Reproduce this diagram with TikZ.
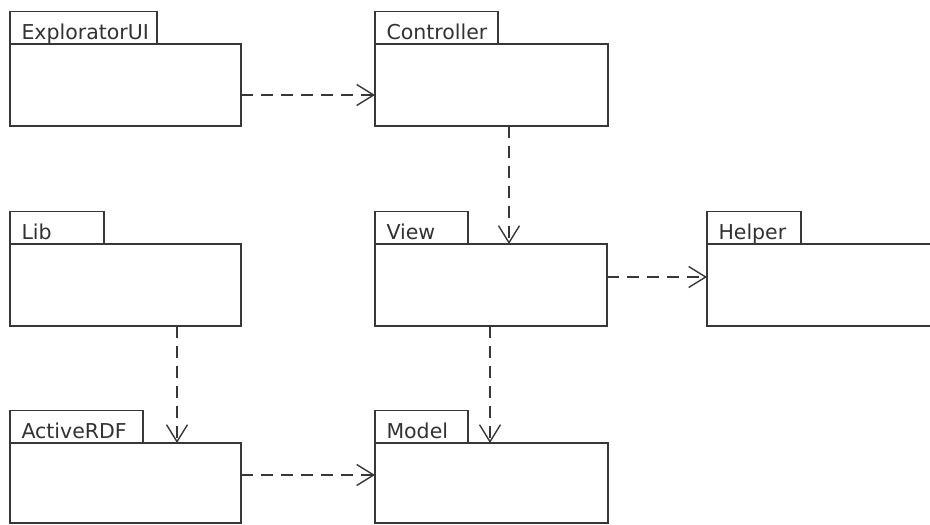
\documentclass[tikz,border=0pt]{standalone}
\usepackage{fontspec}
\setmainfont{DejaVu Sans}
\usetikzlibrary{arrows.meta}
\definecolor{ln}{RGB}{55,55,55}
\definecolor{tx}{RGB}{50,50,50}
\tikzset{
  pkgbody/.style={draw=ln, line width=1.4pt, rectangle, anchor=north west, inner sep=0pt, outer sep=0pt, minimum height=82pt},
  pkgtab/.style={draw=ln, line width=1.4pt, rectangle, anchor=south west, inner xsep=11.5pt, inner ysep=0pt, outer sep=0pt,
    minimum height=32.5pt, align=left, text height=22.6pt, text depth=0pt, font=\fontsize{20.5}{22}\selectfont, text=tx},
  dep/.style={draw=ln, line width=1.4pt, dash pattern=on 12pt off 8pt, -{Straight Barb[length=17pt,width=21pt,line width=1.4pt]}}
}
\begin{document}
\begin{tikzpicture}[x=1pt,y=-1pt]
\useasboundingbox (0,0) rectangle (930,525);
\clip (0,0) rectangle (930,525);
% bodies
\node[pkgbody, minimum width=231pt] (eb) at (10,44) {};
\node[pkgbody, minimum width=233pt] (cb) at (375,44) {};
\node[pkgbody, minimum width=231pt] (lb) at (10,244) {};
\node[pkgbody, minimum width=232pt] (vb) at (375,244) {};
\node[pkgbody, minimum width=260pt] (hb) at (707,244) {};
\node[pkgbody, minimum width=231pt, minimum height=80pt] (ab) at (10,443) {};
\node[pkgbody, minimum width=233pt, minimum height=80pt] (mb) at (375,443) {};
% tabs
\node[pkgtab, text width=124pt] (et) at (eb.north west) {ExploratorUI};
\node[pkgtab, text width=100pt] (ct) at (cb.north west) {Controller};
\node[pkgtab, text width=71pt] (lt) at (lb.north west) {Lib};
\node[pkgtab, text width=70pt] (vt) at (vb.north west) {View};
\node[pkgtab, text width=71pt] (ht) at (hb.north west) {Helper};
\node[pkgtab, text width=110pt] (at) at (ab.north west) {ActiveRDF};
\node[pkgtab, text width=70pt] (mt) at (mb.north west) {Model};
% dependencies
\draw[dep] ([yshift=-10pt]eb.east) -- ([yshift=-10pt]eb.east -| cb.west);
\draw[dep] ([xshift=17.5pt]cb.south) -- ([xshift=17.5pt]cb.south |- vb.north);
\draw[dep] ([yshift=8pt]vb.east) -- ([yshift=8pt]vb.east -| hb.west);
\draw[dep] ([xshift=-1pt]vb.south) -- ([xshift=-1pt]vb.south |- mb.north);
\draw[dep] ([xshift=51.5pt]lb.south) -- ([xshift=51.5pt]lb.south |- ab.north);
\draw[dep] ([yshift=8pt]ab.east) -- ([yshift=8pt]ab.east -| mb.west);
\end{tikzpicture}
\end{document}
